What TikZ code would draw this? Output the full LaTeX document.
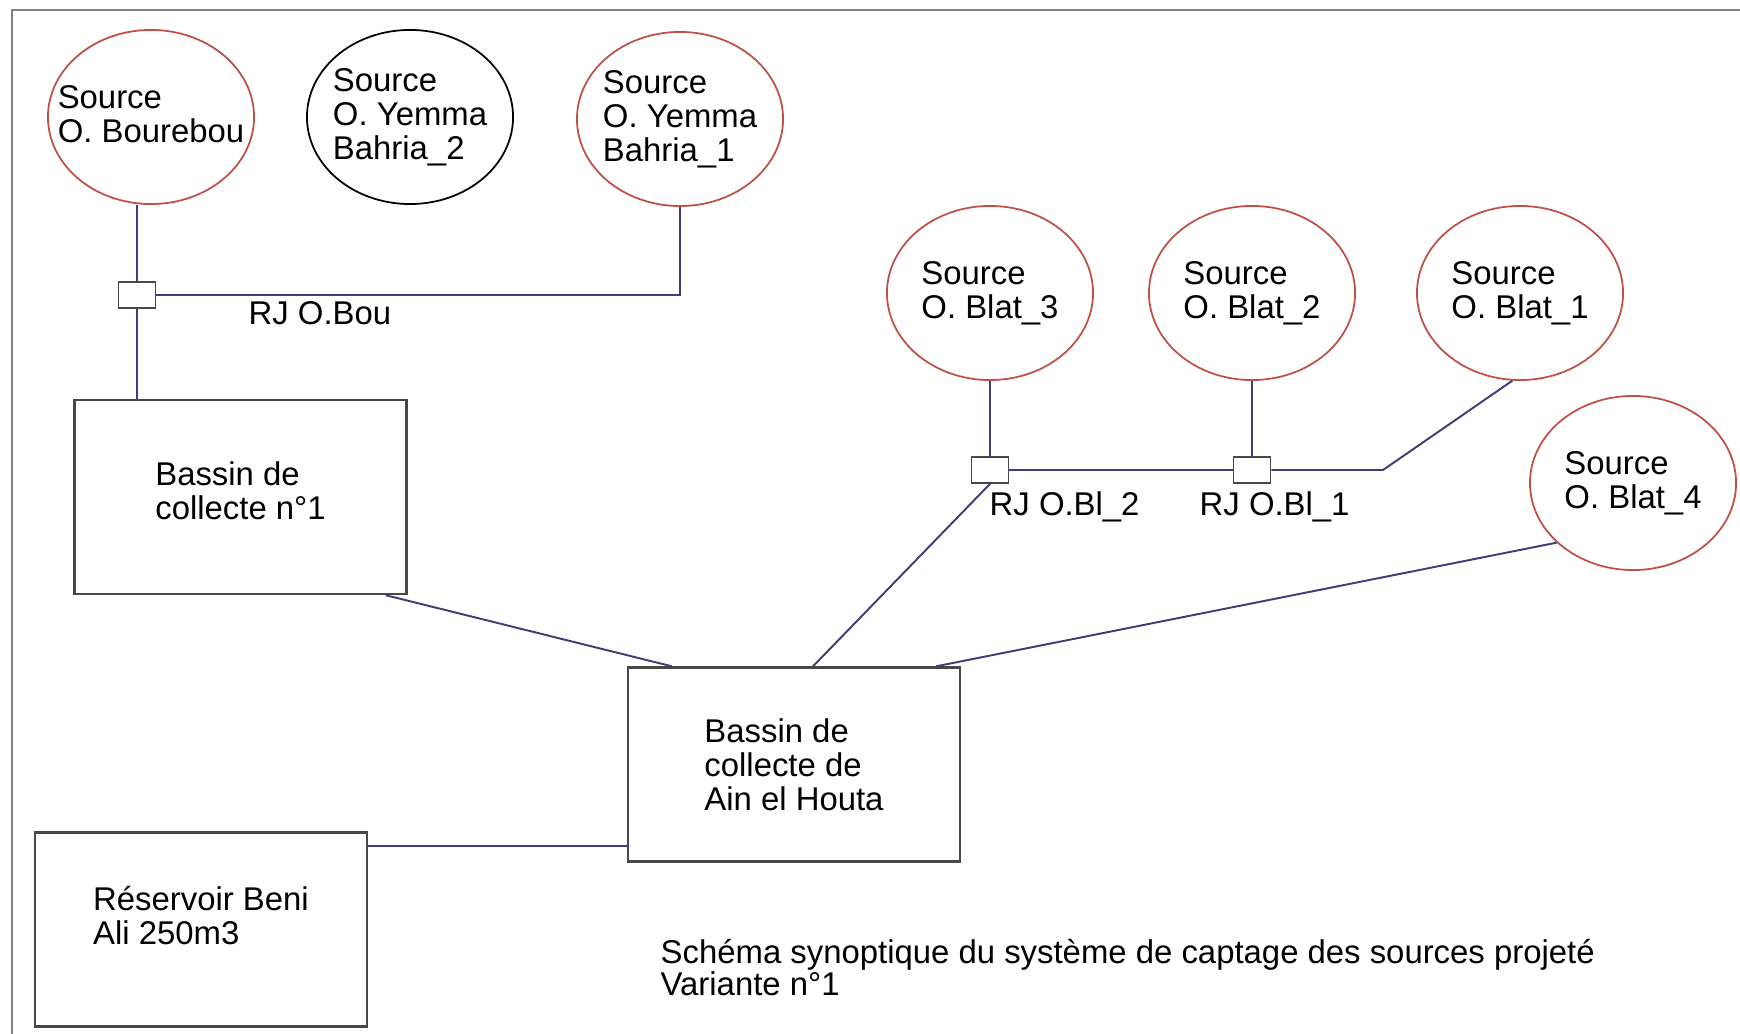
\documentclass[tikz,border=0pt]{standalone}
\usepackage{fontspec}
\setmainfont{Liberation Sans}
\usepackage{tikz}
\usetikzlibrary{shapes,arrows}
\definecolor{srcred}{RGB}{190,80,72}
\definecolor{pipeblue}{RGB}{62,62,120}
\definecolor{edgegray}{RGB}{72,72,72}
\tikzstyle{source} = [ellipse, draw=srcred, line width=0.5pt, align=left,
    minimum width=2.06cm, minimum height=1.74cm, inner sep=-0.3cm]
\tikzstyle{sourcek} = [source, draw=black]
\tikzstyle{rj} = [rectangle, draw=edgegray, line width=0.5pt,
    minimum width=0.37cm, minimum height=0.26cm, inner sep=0pt]
\tikzstyle{bassin} = [rectangle, draw=edgegray, line width=0.65pt, align=left,
    minimum width=3.32cm, minimum height=1.94cm, inner sep=0pt]
\tikzstyle{tag} = [inner sep=0pt, anchor=west, align=left]
\tikzstyle{pipe} = [draw=pipeblue, line width=0.55pt]

\begin{document}
\begin{tikzpicture}[x=0.01cm, y=-0.01cm, font=\fontsize{9.35}{9.7}\selectfont]
\useasboundingbox (0,0) rectangle (1740,1034);
\draw [gray, line width=0.8pt] (12,1034) -- (12,10) -- (1740,10);
% sources
\node [source, text depth=0.06cm] (bou) at (151,117) {Source\\O. Bourebou};
\node [sourcek, xshift=0.04cm] (yem2) at (406,117) {Source\\O. Yemma\\Bahria\_2};
\node [source] (yem1) at (680,119) {Source\\O. Yemma\\Bahria\_1};
\node [source] (bl3) at (990,293) {Source\\O. Blat\_3};
\node [source] (bl2) at (1252,293) {Source\\O. Blat\_2};
\node [source] (bl1) at (1520,293) {Source\\O. Blat\_1};
\node [source] (bl4) at (1633,483) {Source\\O. Blat\_4};
% regards
\node [rj] (rjbou) at (137,295) {};
\node [rj] (rjbl2) at (990,470) {};
\node [rj] (rjbl1) at (1252,470) {};
\coordinate (kink) at (1383,470);
\node [tag] (lbou) at (248,313) {RJ O.Bou};
\node [tag] (lbl2) at (989,507) {RJ O.Bl\_2};
\node [tag] (lbl1) at (1199,507) {RJ O.Bl\_1};
% bassins
\node [bassin, text depth=0.12cm] (bas1) at (240.5,497) {Bassin de\\collecte n°1};
\node [bassin] (bas2) at (794,764.5) {Bassin de\\collecte de\\Ain el Houta};
\node [bassin, text depth=0.28cm] (res) at (201,929.5) {Réservoir Beni\\Ali 250m3};
\coordinate (tap) at ([yshift=-0.15cm]res.north east);
\node [tag, font=\fontsize{9.35}{9.1}\selectfont] (title) at (660,968)
    {Schéma synoptique du système de captage des sources projeté\\Variante n°1};
% conduites
\path [pipe] (bou.south -| rjbou) -- (rjbou);
\path [pipe] (rjbou.east) -| (yem1.south);
\path [pipe] (rjbou) -- (rjbou |- bas1.north);
\path [pipe] (bl3) -- (rjbl2);
\path [pipe] (bl2) -- (rjbl1);
\path [pipe] (rjbl2) -- (rjbl1);
\path [pipe] (rjbl1) -- (kink) -- (bl1.265);
\path [pipe] ([xshift=-0.22cm]bas1.south east) -- ([xshift=0.45cm]bas2.north west);
\path [pipe] (rjbl2.south) -- ([xshift=0.19cm]bas2.north);
\path [pipe] (bl4.218) -- ([xshift=-0.25cm]bas2.north east);
\path [pipe] (tap) -- (tap -| bas2.west);
\end{tikzpicture}
\end{document}
